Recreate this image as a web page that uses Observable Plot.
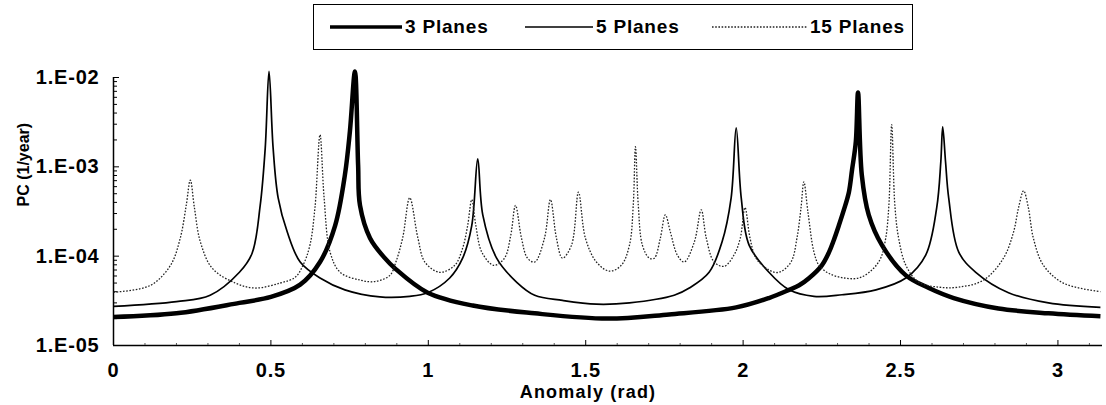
<!DOCTYPE html>
<html>
<head>
<meta charset="utf-8">
<script src="https://cdn.jsdelivr.net/npm/d3@7"></script>
<script src="https://cdn.jsdelivr.net/npm/@observablehq/plot@0.6"></script>
<style>
  html, body { margin: 0; padding: 0; background: #fff; }
  body { width: 1106px; height: 405px; overflow: hidden; font-family: "Liberation Sans", Arial, sans-serif; }
  #legend { position: relative; width: 1106px; height: 55px; }
  #legend .box { position: absolute; left: 313px; top: 4px; width: 600px; height: 46px; border: 1.5px solid #000; box-sizing: border-box; }
  #legend .item { position: absolute; top: 0; height: 43px; display: flex; align-items: center; }
  #legend .lbl { font-weight: bold; font-size: 19px; color: #000; margin-left: 3px; letter-spacing: 0.8px; }
  #chart svg { display: block; }
</style>
</head>
<body>
<div id="legend"><div class="box"></div></div>
<div id="chart"></div>
<script>
// ---- Data (x = anomaly in rad, y = PC in 1/year) ----
const seriesNames = ["3 Planes", "5 Planes", "15 Planes"];

const x3 = [0, 0.20, 0.40, 0.50, 0.593, 0.656, 0.704, 0.735, 0.751, 0.767, 0.777, 0.783, 0.815, 0.862, 0.894, 0.998, 1.141, 1.338, 1.569, 1.765, 1.978, 2.082, 2.146, 2.178, 2.209, 2.25, 2.273, 2.288, 2.304, 2.32, 2.336, 2.346, 2.358, 2.365, 2.377, 2.399, 2.441, 2.517, 2.59, 2.669, 2.811, 2.97, 3.135];
const y3 = [2.08e-5, 2.29e-5, 3.0e-5, 3.5e-5, 4.8e-5, 8.6e-5, 2.2e-4, 8.1e-4, 2.5e-3, 1.17e-2, 1.05e-3, 3.7e-4, 1.59e-4, 9.5e-5, 7.3e-5, 3.9e-5, 2.8e-5, 2.29e-5, 2.0e-5, 2.23e-5, 2.67e-5, 3.4e-5, 4.2e-5, 4.72e-5, 5.66e-5, 7.9e-5, 1.11e-4, 1.51e-4, 2.2e-4, 3.29e-4, 5.2e-4, 9.25e-4, 1.91e-3, 6.8e-3, 8.1e-4, 2.9e-4, 1.33e-4, 6.1e-5, 4.4e-5, 3.4e-5, 2.6e-5, 2.29e-5, 2.12e-5];

const x5 = [0, 0.20, 0.307, 0.40, 0.44, 0.466, 0.482, 0.494, 0.507, 0.523, 0.552, 0.593, 0.656, 0.735, 0.846, 0.941, 0.998, 1.068, 1.109, 1.138, 1.157, 1.173, 1.217, 1.281, 1.338, 1.426, 1.534, 1.639, 1.781, 1.829, 1.892, 1.933, 1.962, 1.978, 1.994, 2.019, 2.082, 2.146, 2.225, 2.314, 2.422, 2.517, 2.58, 2.615, 2.628, 2.634, 2.643, 2.653, 2.685, 2.739, 2.843, 2.97, 3.135];
const y5 = [2.74e-5, 3.1e-5, 3.65e-5, 6.6e-5, 1.07e-4, 3.7e-4, 1.63e-3, 1.17e-2, 1.63e-3, 4.5e-4, 1.86e-4, 8.6e-5, 5.7e-5, 4.2e-5, 3.5e-5, 3.55e-5, 3.9e-5, 5.7e-5, 9.5e-5, 2.2e-4, 1.23e-3, 2.9e-4, 9.5e-5, 5.1e-5, 3.65e-5, 3.2e-5, 2.9e-5, 3.0e-5, 3.65e-5, 4.4e-5, 6.6e-5, 1.44e-4, 4.5e-4, 2.74e-3, 4.5e-4, 1.33e-4, 6.6e-5, 4.2e-5, 3.55e-5, 3.7e-5, 4.2e-5, 5.7e-5, 1.03e-4, 3.5e-4, 1.14e-3, 2.81e-3, 1.14e-3, 4.5e-4, 1.11e-4, 6.6e-5, 3.9e-5, 3.0e-5, 2.67e-5];

const x15 = [0, 0.117, 0.181, 0.212, 0.231, 0.244, 0.257, 0.276, 0.314, 0.387, 0.45, 0.529, 0.577, 0.602, 0.624, 0.64, 0.656, 0.669, 0.688, 0.72, 0.783, 0.83, 0.878, 0.897, 0.919, 0.941, 0.967, 0.989, 1.036, 1.084, 1.109, 1.125, 1.138, 1.151, 1.17, 1.208, 1.242, 1.262, 1.277, 1.296, 1.315, 1.338, 1.369, 1.388, 1.407, 1.426, 1.455, 1.477, 1.499, 1.534, 1.575, 1.613, 1.639, 1.651, 1.658, 1.667, 1.68, 1.702, 1.718, 1.737, 1.753, 1.769, 1.791, 1.813, 1.845, 1.867, 1.883, 1.908, 1.94, 1.971, 1.991, 2.006, 2.022, 2.041, 2.082, 2.114, 2.152, 2.171, 2.184, 2.193, 2.206, 2.225, 2.241, 2.273, 2.32, 2.368, 2.409, 2.437, 2.453, 2.463, 2.472, 2.482, 2.494, 2.517, 2.558, 2.621, 2.685, 2.764, 2.827, 2.859, 2.875, 2.891, 2.906, 2.922, 2.954, 3.017, 3.135];
const y15 = [3.95e-5, 4.7e-5, 7.9e-5, 1.59e-4, 3.7e-4, 7.1e-4, 3.5e-4, 1.44e-4, 7.3e-5, 5.0e-5, 4.4e-5, 5.0e-5, 5.8e-5, 7.9e-5, 1.33e-4, 3.5e-4, 2.29e-3, 4.5e-4, 1.11e-4, 6.6e-5, 5.4e-5, 5.2e-5, 6.1e-5, 8.6e-5, 1.63e-4, 4.5e-4, 1.59e-4, 8.6e-5, 6.6e-5, 7.9e-5, 1.23e-4, 2.2e-4, 4.3e-4, 2.2e-4, 1.11e-4, 7.9e-5, 9.5e-5, 1.72e-4, 3.7e-4, 1.59e-4, 9.5e-5, 8.6e-5, 1.59e-4, 4.3e-4, 1.59e-4, 9.5e-5, 1.33e-4, 5.2e-4, 1.59e-4, 8.6e-5, 6.8e-5, 7.9e-5, 1.33e-4, 3.7e-4, 1.68e-3, 3.7e-4, 1.33e-4, 9.5e-5, 9.5e-5, 1.59e-4, 2.9e-4, 1.86e-4, 1.03e-4, 8.6e-5, 1.44e-4, 3.3e-4, 1.59e-4, 8.6e-5, 7.7e-5, 1.03e-4, 1.59e-4, 3.5e-4, 1.59e-4, 9.5e-5, 7.0e-5, 6.6e-5, 8.6e-5, 1.59e-4, 3.5e-4, 6.8e-4, 3.1e-4, 1.11e-4, 7.9e-5, 6.4e-5, 5.7e-5, 5.7e-5, 7.0e-5, 9.5e-5, 1.59e-4, 3.7e-4, 2.97e-3, 3.7e-4, 1.59e-4, 7.9e-5, 5.1e-5, 4.5e-5, 4.5e-5, 5.4e-5, 9.5e-5, 1.86e-4, 3.5e-4, 5.4e-4, 3.5e-4, 1.59e-4, 7.9e-5, 5.0e-5, 4.0e-5];

const xTickValues = [0, 0.5, 1, 1.5, 2, 2.5, 3];
const xTickLabels = ["0", "0.5", "1", "1.5", "2", "2.5", "3"];
const yTickValues = [1e-5, 1e-4, 1e-3, 1e-2];
const yTickLabels = ["1.E-05", "1.E-04", "1.E-03", "1.E-02"];
const xDomain = [0, Math.PI];
const xTitle = "Anomaly (rad)";
const yTitle = "PC (1/year)";

// ---- Build table ----
const xs = [x3, x5, x15], ys = [y3, y5, y15];
const data = seriesNames.flatMap((name, i) => xs[i].map((x, j) => ({series: name, x, y: ys[i][j]})));
const bySeries = name => data.filter(d => d.series === name);

const styles = {
  "3 Planes":  {stroke: "#000", strokeWidth: 4.5, dash: null},
  "5 Planes":  {stroke: "#000", strokeWidth: 1.7, dash: null},
  "15 Planes": {stroke: "#222", strokeWidth: 1.3, dash: "1.6,1.6"}
};

const minorY = yTickValues.slice(0, -1).flatMap(d => [2,3,4,5,6,7,8,9].map(k => k * d));
const minorX = d3.range(0, 3.15, 0.1).filter(v => !xTickValues.some(t => Math.abs(t - v) < 1e-6));

const fmtY = d => yTickLabels[yTickValues.findIndex(t => Math.abs(t - d) / t < 1e-6)];
const fmtX = d => xTickLabels[xTickValues.findIndex(t => Math.abs(t - d) < 1e-9)];

const font = '"Liberation Sans", Arial, sans-serif';

const chart = Plot.plot({
  width: 1106,
  height: 350,
  marginLeft: 113,
  marginRight: 4,
  marginTop: 22,
  marginBottom: 60,
  style: {fontFamily: font, fontWeight: "bold", fontSize: "17px", color: "#000", background: "#fff"},
  x: {domain: xDomain},
  y: {type: "log", domain: [1e-5, 1e-2]},
  marks: [
    // axis lines
    Plot.ruleX([0], {stroke: "#000", strokeWidth: 1.5}),
    Plot.ruleY([1e-5], {stroke: "#000", strokeWidth: 1.5}),
    // minor ticks
    Plot.axisY(minorY, {tickSize: -4, text: null, label: null, stroke: "#000", strokeWidth: 1}),
    Plot.axisX(minorX, {tickSize: -2, text: null, label: null, stroke: "#555", strokeWidth: 1}),
    // major ticks + labels
    Plot.axisY(yTickValues, {tickSize: -6, tickPadding: 20, tickFormat: fmtY, fontSize: 20, fontWeight: "bold", label: null, stroke: "#000"}),
    Plot.axisX(xTickValues, {tickSize: -5, tickPadding: 22, tickFormat: fmtX, fontSize: 20, fontWeight: "bold", label: null, stroke: "#000"}),
    // axis titles
    Plot.text([xTitle], {frameAnchor: "bottom", dy: 52, dx: -20, text: d => d, fontSize: 18, fontWeight: "bold", className: "xtitle"}),
    Plot.text([yTitle], {frameAnchor: "left", dx: -90, dy: -5, rotate: -90, text: d => d, fontSize: 16, fontWeight: "bold"}),
    // lines
    ...seriesNames.map(name => Plot.line(bySeries(name), {
      x: "x", y: "y", curve: "catmull-rom",
      stroke: styles[name].stroke,
      strokeWidth: styles[name].strokeWidth,
      strokeDasharray: styles[name].dash,
      strokeLinejoin: "round", strokeLinecap: "butt"
    }))
  ]
});
document.getElementById("chart").appendChild(chart);
d3.select(chart).selectAll(".xtitle text").style("letter-spacing", "1.2px");
d3.select(chart).selectAll("g[aria-label='y-axis tick label'] text, g[aria-label='x-axis tick label'] text").style("letter-spacing", "0.8px");

// ---- Legend ----
const box = document.querySelector("#legend .box");
const legendPos = {"3 Planes": [16, 72], "5 Planes": [211, 68], "15 Planes": [398, 95]};
seriesNames.forEach(name => {
  const [left, w] = legendPos[name];
  const st = styles[name];
  const item = document.createElement("div");
  item.className = "item";
  item.style.left = left + "px";
  item.innerHTML = `<svg width="${w}" height="10"><line x1="0" x2="${w}" y1="5" y2="5" stroke="${st.stroke}" stroke-width="${name === "3 Planes" ? 3.5 : st.strokeWidth}" ${st.dash ? `stroke-dasharray="${st.dash}"` : ""}/></svg><span class="lbl">${name}</span>`;
  box.appendChild(item);
});
</script>
</body>
</html>
